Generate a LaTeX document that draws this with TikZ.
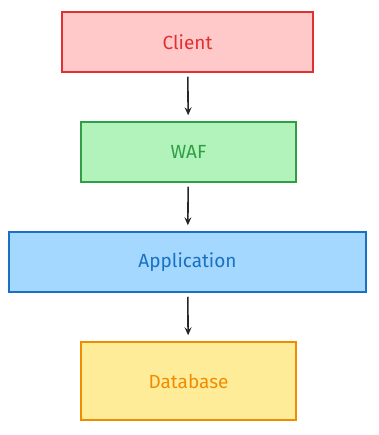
\documentclass[tikz,border=0pt]{standalone}
\usepackage{fontspec}
\setmainfont{Fira Sans}
\usetikzlibrary{arrows.meta}
\definecolor{clientfill}{HTML}{FFC9C9}
\definecolor{clientline}{HTML}{E03131}
\definecolor{waffill}{HTML}{B2F2BB}
\definecolor{wafline}{HTML}{2F9E44}
\definecolor{appfill}{HTML}{A5D8FF}
\definecolor{appline}{HTML}{1971C2}
\definecolor{dbfill}{HTML}{FFEC99}
\definecolor{dbline}{HTML}{F08C00}
\begin{document}
\begin{tikzpicture}[x=1pt, y=-1pt, >={Stealth[length=8pt, width=7pt, inset=3pt]}, every node/.style={rectangle, draw, line width=1.5pt, minimum height=60pt, font=\fontsize{19}{22}\selectfont}]
        \useasboundingbox (0, 0) rectangle (378, 435);
        \node[fill=clientfill, draw=clientline, text=clientline, minimum width=251pt] (client) at (187.5, 42) {Client};
        \node[fill=waffill, draw=wafline, text=wafline, minimum width=215pt] (waf) at (188.5, 152) {WAF};
        \node[fill=appfill, draw=appline, text=appline, minimum width=357pt] (app) at (187.5, 262) {Application};
        \node[fill=dbfill, draw=dbline, text=dbline, minimum width=215pt, minimum height=78pt] (db) at (188.5, 381) {Database};
        \draw[->, line width=1.6pt, black!85, shorten <=4pt, shorten >=6pt] (client) -- (waf);
        \draw[->, line width=1.6pt, black!85, shorten <=4pt, shorten >=6pt] (waf) -- (app);
        \draw[->, line width=1.6pt, black!85, shorten <=4pt, shorten >=6pt] (app) -- (db);
    \end{tikzpicture}
\end{document}
